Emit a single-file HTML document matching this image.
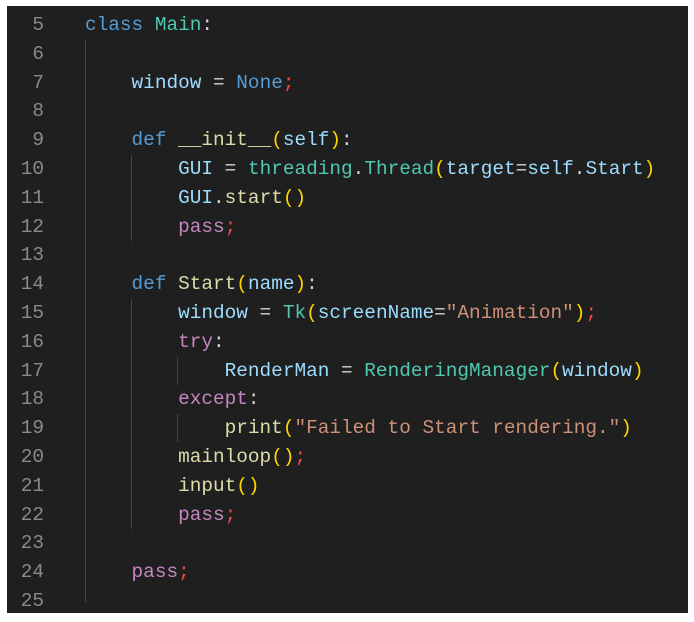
<!DOCTYPE html>
<html><head><meta charset="utf-8"><style>
html,body{margin:0;padding:0;background:#fff;width:694px;height:622px;overflow:hidden}
#ed{position:absolute;left:7px;top:6px;width:681px;height:607px;background:#1f1f1f}
.l{position:absolute;left:0;height:28.8px;line-height:28.8px;font-family:"Liberation Mono",monospace;font-size:19.4px;white-space:pre;color:#d4d4d4}
.n{position:absolute;width:37px;text-align:right;color:#8a8a8a}
.c{position:absolute;left:78px}
.g{position:absolute;width:1px;background:#444}
.k{color:#569cd6}.t{color:#4ec9b0}.v{color:#9cdcfe}.f{color:#dcdcaa}.p{color:#c586c0}.s{color:#ce9178}.b{color:#ffd700}.r{color:#f44747}.q{color:#da70d6}
</style></head><body><div id="ed">
<div class="g" style="left:78px;top:34px;height:562px"></div>
<div class="g" style="left:124px;top:149px;height:86px"></div>
<div class="g" style="left:124px;top:293px;height:230px"></div>
<div class="g" style="left:170px;top:351px;height:28px"></div>
<div class="g" style="left:170px;top:408px;height:28px"></div>
<div class="l" style="top:5px"><span class="n">5</span><span class="c"><span class="k">class</span> <span class="t">Main</span>:</span></div>
<div class="l" style="top:33.8px"><span class="n">6</span></div>
<div class="l" style="top:62.6px"><span class="n">7</span><span class="c">    <span class="v">window</span> = <span class="k">None</span><span class="r">;</span></span></div>
<div class="l" style="top:91.4px"><span class="n">8</span></div>
<div class="l" style="top:120.2px"><span class="n">9</span><span class="c">    <span class="k">def</span> <span class="f">__init__</span><span class="b">(</span><span class="v">self</span><span class="b">)</span>:</span></div>
<div class="l" style="top:149px"><span class="n">10</span><span class="c">        <span class="v">GUI</span> = <span class="t">threading</span>.<span class="t">Thread</span><span class="b">(</span><span class="v">target</span>=<span class="v">self</span>.<span class="v">Start</span><span class="b">)</span></span></div>
<div class="l" style="top:177.8px"><span class="n">11</span><span class="c">        <span class="v">GUI</span>.<span class="f">start</span><span class="b">()</span></span></div>
<div class="l" style="top:206.6px"><span class="n">12</span><span class="c">        <span class="p">pass</span><span class="r">;</span></span></div>
<div class="l" style="top:235.4px"><span class="n">13</span></div>
<div class="l" style="top:264.2px"><span class="n">14</span><span class="c">    <span class="k">def</span> <span class="f">Start</span><span class="b">(</span><span class="v">name</span><span class="b">)</span>:</span></div>
<div class="l" style="top:293px"><span class="n">15</span><span class="c">        <span class="v">window</span> = <span class="t">Tk</span><span class="b">(</span><span class="v">screenName</span>=<span class="s">"Animation"</span><span class="b">)</span><span class="r">;</span></span></div>
<div class="l" style="top:321.8px"><span class="n">16</span><span class="c">        <span class="p">try</span>:</span></div>
<div class="l" style="top:350.6px"><span class="n">17</span><span class="c">            <span class="v">RenderMan</span> = <span class="t">RenderingManager</span><span class="b">(</span><span class="v">window</span><span class="b">)</span></span></div>
<div class="l" style="top:379.4px"><span class="n">18</span><span class="c">        <span class="p">except</span>:</span></div>
<div class="l" style="top:408.2px"><span class="n">19</span><span class="c">            <span class="f">print</span><span class="b">(</span><span class="s">"Failed to Start rendering."</span><span class="b">)</span></span></div>
<div class="l" style="top:437px"><span class="n">20</span><span class="c">        <span class="f">mainloop</span><span class="b">()</span><span class="r">;</span></span></div>
<div class="l" style="top:465.8px"><span class="n">21</span><span class="c">        <span class="f">input</span><span class="b">()</span></span></div>
<div class="l" style="top:494.6px"><span class="n">22</span><span class="c">        <span class="p">pass</span><span class="r">;</span></span></div>
<div class="l" style="top:523.4px"><span class="n">23</span></div>
<div class="l" style="top:552.2px"><span class="n">24</span><span class="c">    <span class="p">pass</span><span class="r">;</span></span></div>
<div class="l" style="top:581px"><span class="n">25</span></div>
</div></body></html>
